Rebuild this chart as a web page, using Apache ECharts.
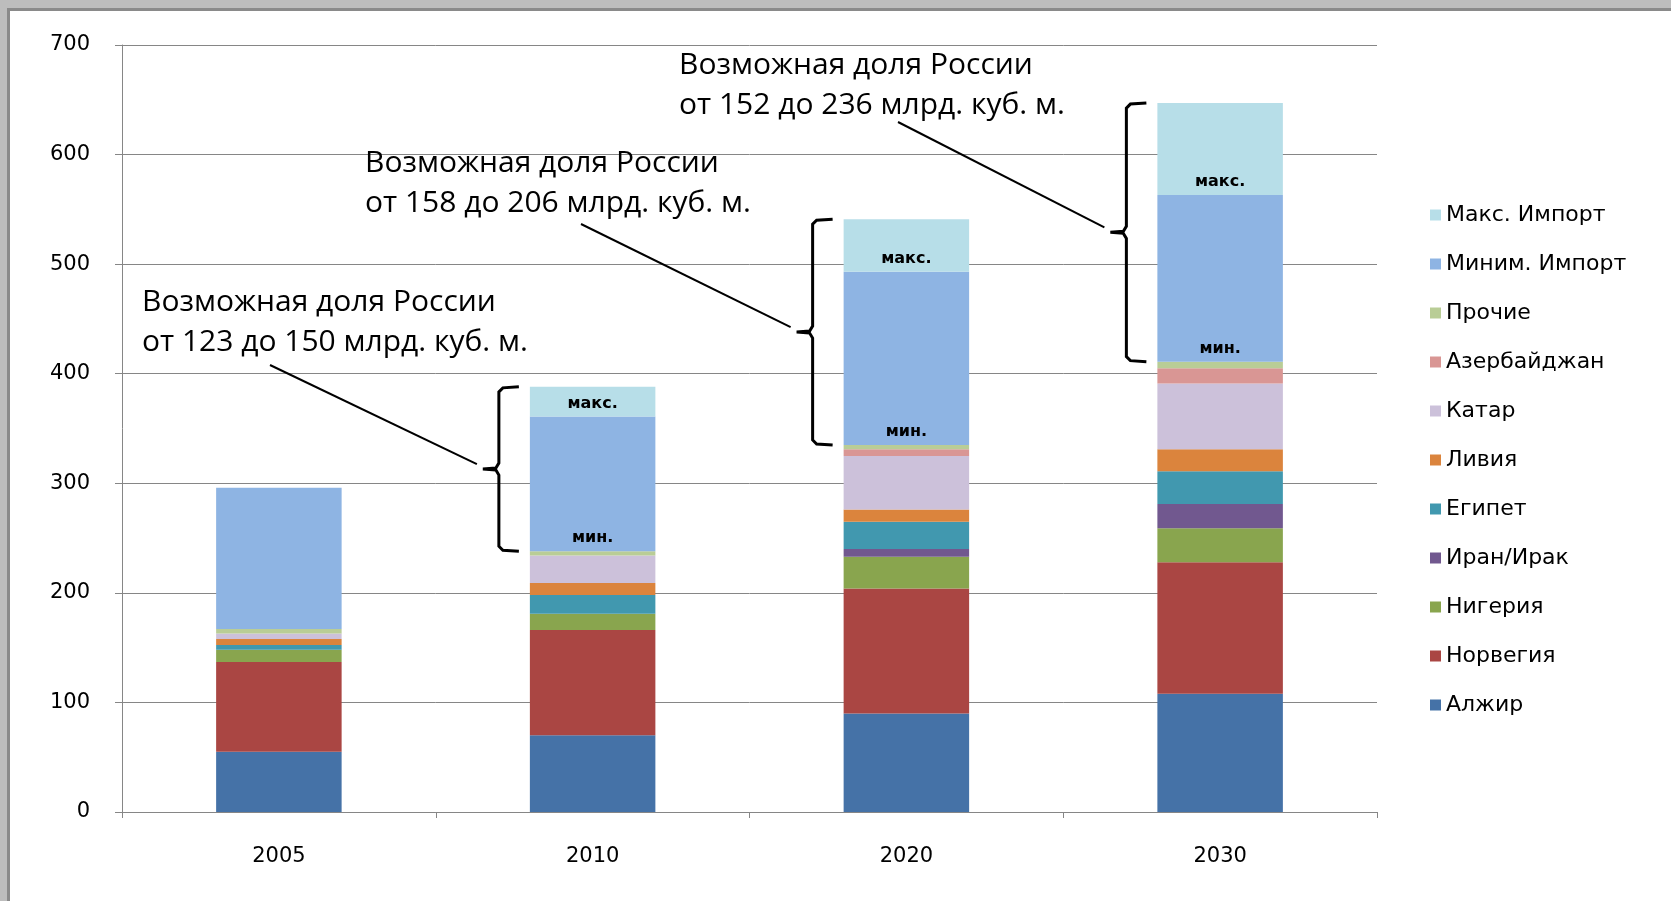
<!DOCTYPE html>
<html>
<head>
<meta charset="utf-8">
<script src="https://cdn.jsdelivr.net/npm/echarts@6/dist/echarts.min.js"></script>
<style>
    html, body {
        margin: 0;
        padding: 0;
        background: #bdbdbd;
    }
    .panel {
        position: absolute;
        left: 7px;
        top: 8px;
        width: 1661px;
        height: 890px;
        background: #fff;
        border-left: 3px solid #8a8a8a;
        border-top: 3px solid #8a8a8a;
    }
    #chart {
        position: absolute;
        left: 0;
        top: 0;
        width: 1671px;
        height: 901px;
    }
</style>
</head>
<body>
<div class="panel"></div>
<div id="chart"></div>
<script>
// годы
const years = ['2005', '2010', '2020', '2030'];

// млрд. куб. м
const algeria = [55, 70, 90, 108];
const norway = [82, 96, 114, 120];
const nigeria = [11, 15, 29, 31];
const iranIraq = [0, 0, 7, 22];
const egypt = [4.5, 17, 25, 30];
const libya = [5.5, 11, 11, 20];
const qatar = [5, 25, 49, 60];
const azerbaijan = [0, 0, 6, 14];
const others = [4, 4, 4, 6];
const minImport = [129, 123, 158, 152];
const maxImport = [0, 27, 48, 84];

const yTicks = [0, 100, 200, 300, 400, 500, 600, 700];

// подписи-выноски
const notes = [
    'Возможная доля России\nот 123 до 150 млрд. куб. м.',
    'Возможная доля России\nот 158 до 206 млрд. куб. м.',
    'Возможная доля России\nот 152 до 236 млрд. куб. м.'
];

const seriesDefs = [
    {name: 'Алжир', data: algeria, color: '#4572A7'},
    {name: 'Норвегия', data: norway, color: '#AA4643'},
    {name: 'Нигерия', data: nigeria, color: '#89A54E'},
    {name: 'Иран/Ирак', data: iranIraq, color: '#71588F'},
    {name: 'Египет', data: egypt, color: '#4198AF'},
    {name: 'Ливия', data: libya, color: '#DB843D'},
    {name: 'Катар', data: qatar, color: '#CCC1DA'},
    {name: 'Азербайджан', data: azerbaijan, color: '#D99694'},
    {name: 'Прочие', data: others, color: '#B9CD96'},
    {name: 'Миним. Импорт', data: minImport, color: '#8EB4E3', tag: 'мин.'},
    {name: 'Макс. Импорт', data: maxImport, color: '#B7DEE8', tag: 'макс.'}
];

let myChart = echarts.init(document.getElementById('chart'));

const series = seriesDefs.map(s => ({
    name: s.name,
    type: 'bar',
    stack: 'gas',
    barCategoryGap: '60%',
    data: s.data,
    itemStyle: {color: s.color},
    label: {
        show: !!s.tag,
        position: 'insideBottom',
        distance: 5,
        color: '#000',
        fontFamily: 'DejaVu Sans',
        fontSize: 16,
        fontWeight: 'bold',
        formatter: p => (p.dataIndex === 0 ? '' : s.tag)
    }
}));

myChart.setOption({
    animation: false,
    backgroundColor: 'transparent',
    grid: {left: 122, right: 294, top: 45, bottom: 89},
    legend: {
        orient: 'vertical',
        left: 1425,
        top: 199,
        itemWidth: 11,
        itemHeight: 11,
        itemGap: 27,
        icon: 'rect',
        data: seriesDefs.map(s => s.name).reverse(),
        textStyle: {
            fontFamily: 'DejaVu Sans',
            fontSize: 22,
            color: '#000'
        }
    },
    xAxis: {
        type: 'category',
        data: years,
        axisLine: {lineStyle: {color: '#868686', width: 1}},
        axisTick: {show: true, length: 6, lineStyle: {color: '#868686'}},
        axisLabel: {
            margin: 34,
            fontFamily: 'DejaVu Sans',
            fontSize: 21,
            color: '#000'
        }
    },
    yAxis: {
        type: 'value',
        min: yTicks[0],
        max: yTicks[yTicks.length - 1],
        interval: 100,
        axisLine: {show: true, lineStyle: {color: '#868686', width: 1}},
        axisTick: {show: true, length: 7, lineStyle: {color: '#868686'}},
        splitLine: {lineStyle: {color: '#868686', width: 1}},
        axisLabel: {
            margin: 32,
            fontFamily: 'DejaVu Sans',
            fontSize: 21,
            color: '#000'
        }
    },
    series: series
});

// фигурные скобки и выноски
const textPos = [[142, 282], [365, 143], [679, 45]];
const lineStart = [[270, 365], [581, 224], [898, 122]];
let graphics = [];
const band = myChart.convertToPixel({gridIndex: 0}, [1, 0])[0] - myChart.convertToPixel({gridIndex: 0}, [0, 0])[0];
for (let k = 0; k < 3; k++) {
    let i = k + 1;
    let base = 0;
    for (let s = 0; s < 9; s++) base += seriesDefs[s].data[i];
    let topVal = base + minImport[i] + maxImport[i];
    let pBot = myChart.convertToPixel({gridIndex: 0}, [i, base]);
    let pTop = myChart.convertToPixel({gridIndex: 0}, [i, topVal]);
    let barLeft = pBot[0] - band * 0.2;
    let sx = barLeft - 31;
    let top = pTop[1], bot = pBot[1], mid = (top + bot) / 2;
    graphics.push({
        type: 'polyline',
        shape: {
            points: [
                [sx + 20, top], [sx + 4, top + 1], [sx, top + 5],
                [sx, mid - 6], [sx - 3, mid - 1], [sx - 16, mid],
                [sx - 3, mid + 1], [sx, mid + 6],
                [sx, bot - 5], [sx + 4, bot - 1], [sx + 20, bot]
            ]
        },
        style: {stroke: '#000', lineWidth: 3, fill: null},
        z: 100
    });
    graphics.push({
        type: 'line',
        shape: {x1: lineStart[k][0], y1: lineStart[k][1], x2: sx - 22, y2: mid - 5},
        style: {stroke: '#000', lineWidth: 2},
        z: 100
    });
    graphics.push({
        type: 'text',
        x: textPos[k][0],
        y: textPos[k][1],
        style: {
            text: notes[k],
            font: '30px "Open Sans"',
            fill: '#000',
            lineHeight: 40
        },
        z: 100
    });
}
myChart.setOption({graphic: graphics});
</script>
</body>
</html>
